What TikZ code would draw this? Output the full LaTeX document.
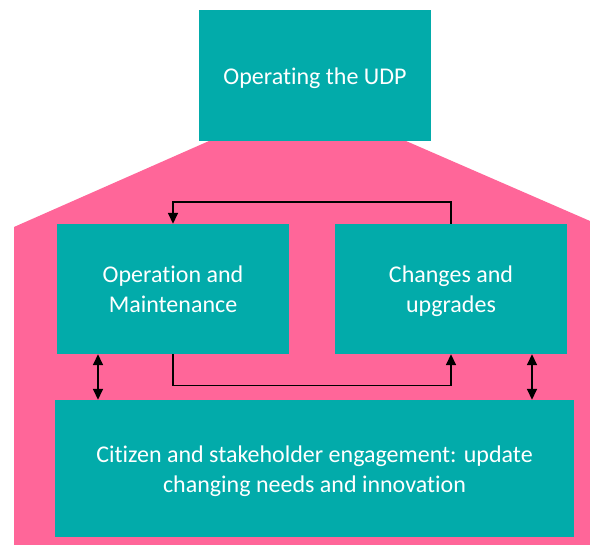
\documentclass[tikz,border=0pt]{standalone}
\usepackage{fontspec}
\setmainfont[Ligatures=NoCommon]{Carlito}
\usetikzlibrary{arrows.meta}
\definecolor{teal1}{RGB}{2,171,170}
\definecolor{pink1}{RGB}{255,102,153}
\newcommand{\topstrut}{\rule{0pt}{26pt}}
\begin{document}
\begin{tikzpicture}[x=1pt,y=-1pt,
  box/.style={fill=teal1,draw=none,inner sep=0pt,text=white,align=center,
    font=\fontsize{24}{29.3}\selectfont},
  conn/.style={line width=1.6pt,-{Triangle[length=11pt,width=10pt]}},
  dconn/.style={line width=1.6pt,{Triangle[length=11pt,width=10pt]}-{Triangle[length=11pt,width=10pt]}}]
\useasboundingbox (0,0) rectangle (590,545);
\fill[pink1] (14,545) -- (14,227) -- (209,141) -- (406,141) -- (590,221) -- (590,545) -- cycle;
\node[box,minimum width=232pt,minimum height=131pt] (udp) at (315,75.5) {\topstrut Operating the UDP\strut};
\node[box,minimum width=232pt,minimum height=130pt] (om) at (173,289) {\topstrut Operation and\\Maintenance\strut};
\node[box,minimum width=232pt,minimum height=130pt] (cu) at (451,289) {\topstrut Changes and\\upgrades\strut};
\node[box,minimum width=519pt,minimum height=137.5pt] (cit) at (314.5,468.75) {\topstrut Citizen and stakeholder engagement: update\\changing needs and innovation\strut};
\draw[conn] (cu.north) -- ++(0,-21.5) -| (om.north);
\draw[conn] (om.south) -- ++(0,31.5) -| (cu.south);
\coordinate (lx) at (98,0);
\coordinate (rx) at (532,0);
\draw[dconn] (lx |- om.south) -- (lx |- cit.north);
\draw[dconn] (rx |- cu.south) -- (rx |- cit.north);
\end{tikzpicture}
\end{document}
